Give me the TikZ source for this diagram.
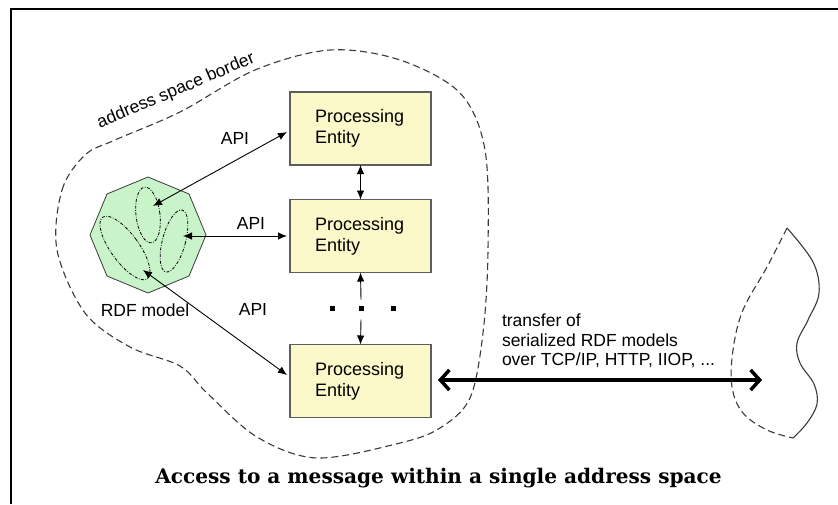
\documentclass[tikz,border=0pt]{standalone}
\usepackage{fontspec}
\setmainfont{Liberation Sans}
\newfontfamily\titlefont{DejaVu Serif}
\usetikzlibrary{arrows.meta,shapes.geometric}

\definecolor{boxfill}{HTML}{FBF9C9}
\definecolor{boxline}{HTML}{5E5E5E}
\definecolor{modelfill}{HTML}{C9F4C9}
\definecolor{inkgray}{HTML}{3A3A3A}

\begin{document}
\begin{tikzpicture}[x=1pt,y=-1pt,
  every node/.style={inner sep=0pt, outer sep=0pt},
  sans/.style={font=\fontsize{17.5}{19.5}\selectfont},
  entity/.style={draw=boxline, line width=1.3pt, fill=boxfill,
    minimum height=73pt, text width=91pt, inner xsep=25pt, align=left,
    font=\fontsize{18}{21}\selectfont},
  octa/.style={regular polygon, regular polygon sides=8, shape border rotate=22.5,
    minimum size=116pt, draw=inkgray, line width=0.8pt, fill=modelfill},
  subgraph/.style={ellipse, draw=black, line width=0.8pt,
    dash pattern=on 3pt off 1.5pt on 0.8pt off 1.5pt},
  api/.style={draw=black, line width=0.9pt,
    {Latex[length=9pt,width=7.5pt]}-{Latex[length=9pt,width=7.5pt]}},
  uparrow/.style={draw=black, line width=0.9pt, -{Latex[length=9pt,width=7.5pt]}},
  wire/.style={draw=black, line width=3.5pt,
    {Straight Barb[length=9pt,width=20pt]}-{Straight Barb[length=9pt,width=20pt]}},
  border/.style={draw=inkgray, line width=1.1pt, dash pattern=on 7pt off 4pt},
  edge/.style={draw=inkgray, line width=1.1pt},
  dotsq/.style={fill=black, minimum size=5pt, rectangle}
]
\useasboundingbox (0,0) rectangle (838,504);
\fill[white] (0,0) rectangle (838,504);

% frame
\draw[line width=2pt] (11,504) -- (11,9) -- (838,9);

% address space border
\draw[border] plot[smooth cycle, tension=0.55] coordinates {
  (57,250) (62,190) (85,155) (115,140) (180,112) (255,70) (330,50)
  (400,60) (460,93) (485,150) (488,250) (483,333) (470,398) (440,428)
  (400,443) (317,458) (257,437) (207,393) (180,366) (130,347) (85,313)};
\node[sans, rotate=23] (borderlabel) at (176,91) {address space border};

% remote address space
\draw[border] plot[smooth, tension=0.6] coordinates {
  (787,228) (767,267) (743,310) (733,350) (732,387) (743,413) (767,430) (793,438)};
\draw[edge] plot[smooth, tension=0.6] coordinates {
  (793,438) (807,423) (817,404) (814,384) (800,363) (797,343) (808,320)
  (819,293) (813,262) (787,228)};

% RDF model
\node[octa] (rdf) at (148,235) {};
\node[subgraph, minimum width=24pt, minimum height=56pt, rotate=7] (g1) at (148,215) {};
\node[subgraph, minimum width=23pt, minimum height=64pt, rotate=-15] (g2) at (174,241) {};
\node[subgraph, minimum width=28pt, minimum height=76pt, rotate=36] (g3) at (125,248) {};
\node[sans] (rdflabel) at (145,310) {RDF model};

% processing entities
\node[entity] (pe1) at (360.5,128.5) {Processing\\Entity};
\node[entity] (pe2) at (360.5,236) {Processing\\Entity};
\node[entity] (pe3) at (360.5,381) {Processing\\Entity};

% API connectors
\coordinate (m1) at (153,206);
\coordinate (m2) at (183,236);
\coordinate (m3) at (143,270);
\coordinate (t1) at (287,132);
\coordinate (t3) at (287,375);
\draw[api] (m1) -- (t1);
\draw[api] (m2) -- ([xshift=-3pt]pe2.west);
\draw[api] (m3) -- (t3);
\node[sans] (api1) at (235,138) {API};
\node[sans] (api2) at (251,223) {API};
\node[sans] (api3) at (253,309) {API};

% links between entities
\draw[api] (pe1.south) -- (pe2.north);
\node[dotsq] (d1) at (332,308) {};
\node[dotsq] (d2) at (361,308) {};
\node[dotsq] (d3) at (393,308) {};
\draw[uparrow] ([yshift=6pt]d2.north) -- (pe2.south);
\draw[uparrow] ([yshift=-9pt]d2.south) -- (pe3.north);

% transfer between address spaces
\coordinate (remote) at (762,380);
\draw[wire] ([xshift=7pt,yshift=1pt]pe3.east) -- (remote);
\node[sans, anchor=west, align=left] (transfer) at (502,341)
  {transfer of\\serialized RDF models\\over TCP/IP, HTTP, IIOP, ...};

% caption
\node[font=\titlefont\bfseries\fontsize{20.1}{23}\selectfont, anchor=base] (caption)
  at (438.5,483) {Access to a message within a single address space};
\end{tikzpicture}
\end{document}
